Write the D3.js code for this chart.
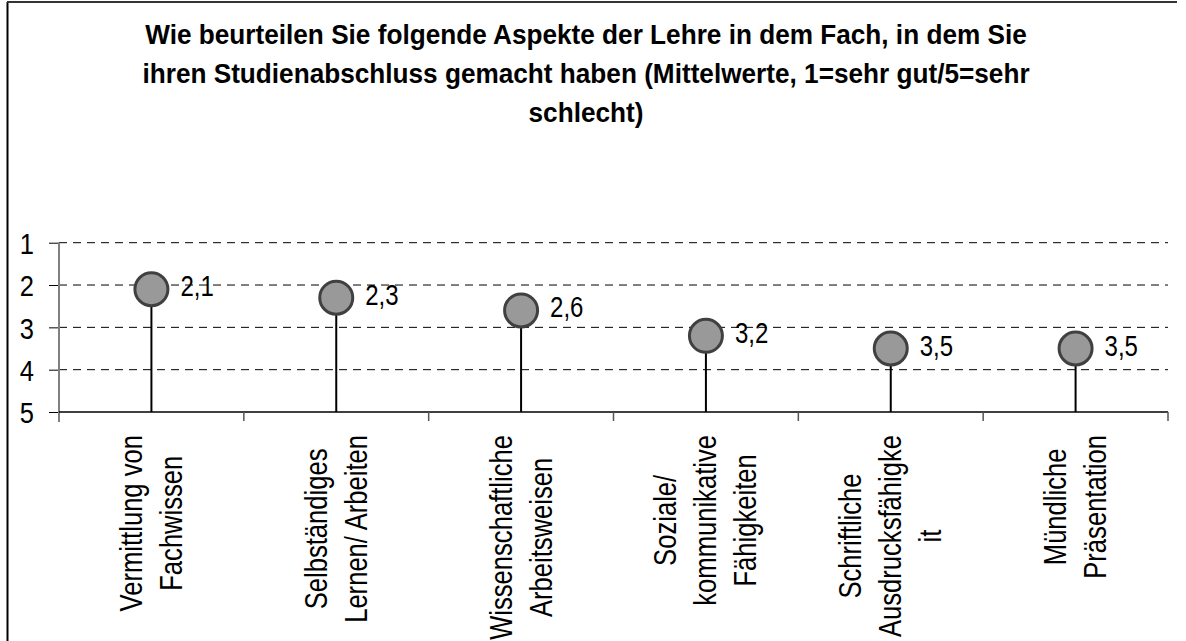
<!DOCTYPE html>
<html>
<head>
<meta charset="utf-8">
<script src="https://cdn.jsdelivr.net/npm/d3@7"></script>
<style>
  body { margin: 0; background: #fff; }
  text { font-family: "Liberation Sans", Arial, sans-serif; fill: #000; }
</style>
</head>
<body>
<svg id="chart" width="1186" height="641"></svg>
<script>
// données du graphique
const titleLines = [
  "Wie beurteilen Sie folgende Aspekte der Lehre in dem Fach, in dem Sie",
  "ihren Studienabschluss gemacht haben (Mittelwerte, 1=sehr gut/5=sehr",
  "schlecht)"
];
const categories = [
  "Vermittlung von\nFachwissen",
  "Selbständiges\nLernen/ Arbeiten",
  "Wissenschaftliche\nArbeitsweisen",
  "Soziale/\nkommunikative\nFähigkeiten",
  "Schriftliche\nAusdrucksfähigke\nit",
  "Mündliche\nPräsentation"
];
const values = [2.1, 2.3, 2.6, 3.2, 3.5, 3.5];
const yTicks = [1, 2, 3, 4, 5];

// texte un peu étroit comme Arial Narrow
const narrow = 0.8;
const svg = d3.select("#chart");

// cadre
svg.append("line").attr("x1", 7.5).attr("x2", 7.5).attr("y1", 2).attr("y2", 641)
  .attr("stroke", "#000").attr("stroke-width", 2);
svg.append("line").attr("x1", 7).attr("x2", 1177).attr("y1", 2).attr("y2", 2)
  .attr("stroke", "#333").attr("stroke-width", 2);

// titre
titleLines.forEach((t, i) => {
  svg.append("g").attr("transform", `translate(586,${44 + i * 39}) scale(0.97,1)`)
    .append("text").attr("text-anchor", "middle")
    .attr("font-size", 27).attr("font-weight", "bold").text(t);
});

const x = d3.scaleBand().domain(categories).range([59, 1168]);
const y = d3.scaleLinear().domain([1, 5]).range([242.7, 412]);
const fmt = d => d3.format(".1f")(d).replace(".", ",");

// grille pointillée
svg.append("g").selectAll("line")
  .data(yTicks.filter(d => d < 5))
  .join("line")
  .attr("x1", 59).attr("x2", 1168)
  .attr("y1", d => y(d)).attr("y2", d => y(d))
  .attr("stroke", "#000").attr("stroke-width", 1)
  .attr("stroke-dasharray", "8,6");

// axe Y
const yAxis = svg.append("g").attr("transform", "translate(59,0)")
  .call(d3.axisLeft(y).tickValues(yTicks).tickSize(10).tickPadding(0).tickFormat(d => d));
yAxis.select(".domain").remove();
yAxis.selectAll(".tick line").attr("stroke", "#000");
yAxis.selectAll(".tick text").attr("font-size", 30)
  .attr("font-family", "Liberation Sans, Arial, sans-serif")
  .attr("x", 0).attr("dy", "0.36em")
  .attr("transform", "translate(-25,0) scale(0.85,1)");
svg.append("line").attr("x1", 59).attr("x2", 59)
  .attr("y1", y(1)).attr("y2", y(5) + 10)
  .attr("stroke", "#808080").attr("stroke-width", 2);

// axe X
svg.append("line").attr("x1", 59).attr("x2", 1168)
  .attr("y1", y(5)).attr("y2", y(5))
  .attr("stroke", "#000").attr("stroke-width", 1.5);
const edges = categories.map(c => x(c)).concat([x.range()[1]]);
svg.append("g").selectAll("line").data(edges.slice(1)).join("line")
  .attr("x1", d => d).attr("x2", d => d)
  .attr("y1", y(5)).attr("y2", y(5) + 9)
  .attr("stroke", "#555").attr("stroke-width", 1.5);

// libellés des catégories (tournés)
const lineGap = 40;
categories.forEach(c => {
  const lines = c.split("\n");
  const cx = x(c) + x.bandwidth() / 2;
  const g = svg.append("g");
  const texts = lines.map((l, i) => {
    const bx = cx + (i - (lines.length - 1) / 2) * lineGap + 10.5;
    return g.append("text").attr("text-anchor", "middle")
      .attr("font-size", 32).text(l).datum(bx);
  });
  const maxLen = d3.max(texts, t => t.node().getComputedTextLength()) * narrow;
  const cy = 435 + maxLen / 2;
  texts.forEach(t => {
    t.attr("transform", `translate(${t.datum()},${cy}) rotate(-90) scale(${narrow},1)`);
  });
});

// tiges, cercles et valeurs
const pts = categories.map((c, i) => ({ c: c, v: values[i] }));
const r = 16.5;
svg.append("g").selectAll("line").data(pts).join("line")
  .attr("x1", d => x(d.c) + x.bandwidth() / 2).attr("x2", d => x(d.c) + x.bandwidth() / 2)
  .attr("y1", d => y(d.v)).attr("y2", y(5))
  .attr("stroke", "#000").attr("stroke-width", 2);
svg.append("g").selectAll("circle").data(pts).join("circle")
  .attr("cx", d => x(d.c) + x.bandwidth() / 2).attr("cy", d => y(d.v))
  .attr("r", r).attr("fill", "#999999")
  .attr("stroke", "#404040").attr("stroke-width", 3);
svg.append("g").selectAll("g").data(pts).join("g")
  .attr("transform", d => `translate(${x(d.c) + x.bandwidth() / 2 + 29},${y(d.v) + 7}) scale(0.8,1)`)
  .append("text").attr("font-size", 30).text(d => fmt(d.v));
</script>
</body>
</html>
